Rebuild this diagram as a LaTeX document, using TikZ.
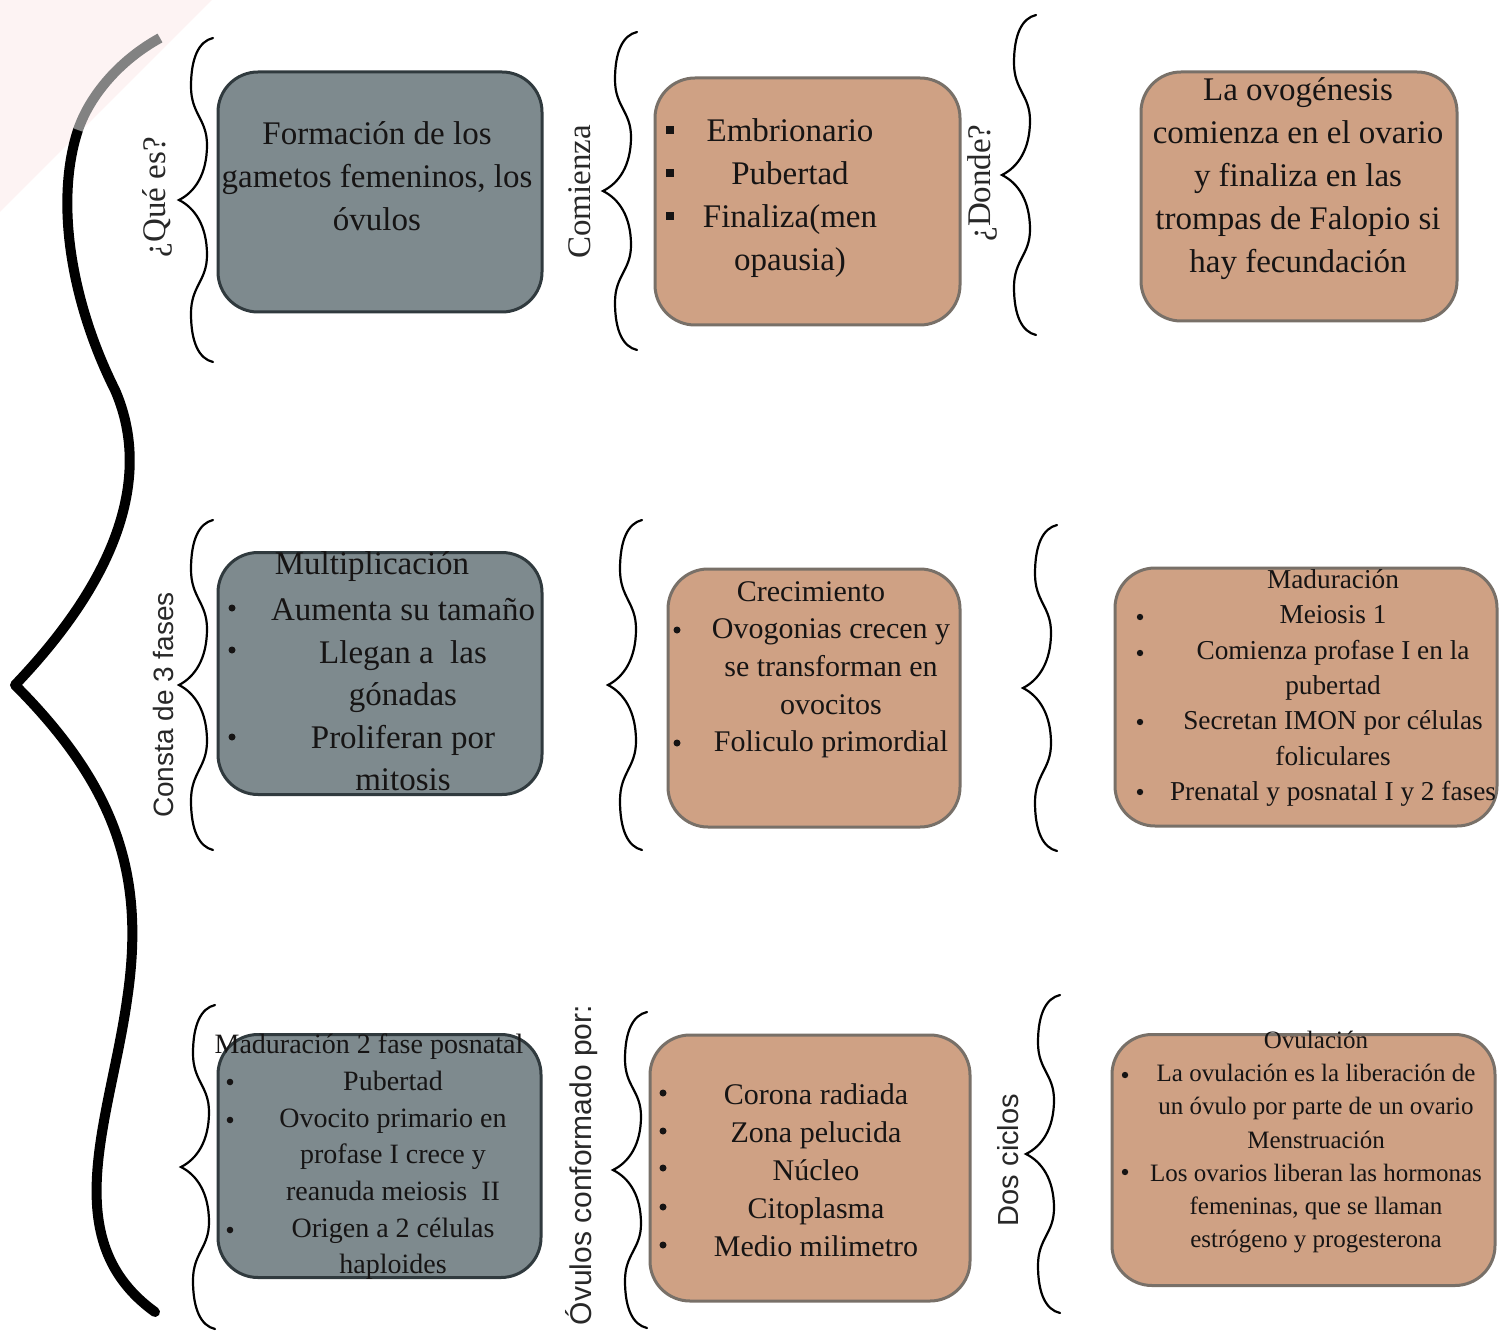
\documentclass[tikz,border=0pt]{standalone}
\usepackage{fontspec}
\setmainfont{Liberation Serif}
\newfontfamily\lblsans{Liberation Sans}
\definecolor{boxgray}{RGB}{126,138,142}
\definecolor{boxgrayline}{RGB}{48,58,62}
\definecolor{boxtan}{RGB}{207,161,132}
\definecolor{tanline}{RGB}{120,112,104}
\definecolor{txtcol}{RGB}{22,20,20}
\definecolor{lblcol}{RGB}{40,40,40}
\definecolor{pinkbg}{RGB}{253,243,243}
\definecolor{tipgray}{RGB}{130,130,130}
\newcommand\fsA{\fontsize{33}{43}\selectfont}
\newcommand\fsD{\fontsize{33}{42.5}\selectfont}
\newcommand\fsE{\fontsize{30}{37.7}\selectfont}
\newcommand\fsF{\fontsize{27.3}{35.3}\selectfont}
\newcommand\fsG{\fontsize{28}{36.6}\selectfont}
\newcommand\fsH{\fontsize{30}{38}\selectfont}
\newcommand\fsI{\fontsize{25}{33.3}\selectfont}
\newcommand\wavybrace[3]{%
  \begin{scope}[shift={(#1,#2)}, yscale=#3]
    \draw[smallbr] (0,0) .. controls (-14,0.02) and (-22,0.12) .. (-22,0.30)
      .. controls (-22,0.47) and (-6,0.50) .. (-6,0.66)
      .. controls (-6,0.84) and (-18,0.95) .. (-34,1)
      .. controls (-18,1.05) and (-6,1.16) .. (-6,1.34)
      .. controls (-6,1.50) and (-22,1.53) .. (-22,1.70)
      .. controls (-22,1.88) and (-14,1.98) .. (0,2);
  \end{scope}}
\tikzset{
  graybox/.style={draw=boxgrayline, line width=3pt, fill=boxgray, rounded corners=40pt, inner sep=0pt},
  tanbox/.style={draw=tanline, line width=3pt, fill=boxtan, rounded corners=40pt, inner sep=0pt},
  txt/.style={text=txtcol, align=center, inner sep=0pt},
  lbl/.style={text=lblcol, rotate=90, inner sep=0pt},
  smallbr/.style={line width=2.2pt, draw=black, line cap=round},
  bigbr/.style={line width=10pt, line cap=round, line join=round},
}
\begin{document}
\begin{tikzpicture}[x=1pt,y=-1pt]
\useasboundingbox (0,0) rectangle (1501,1337);
\fill[white] (0,0) rectangle (1501,1337);
\fill[pinkbg] (0,0) -- (212,0) -- (0,212) -- cycle;

% big brace
\draw[bigbr, black] (78,130) .. controls (55,200) and (70,300) .. (115,390)
  .. controls (150,470) and (125,570) .. (15,685)
  .. controls (120,790) and (145,880) .. (127,1000)
  .. controls (110,1120) and (55,1240) .. (155,1312);
\draw[bigbr, tipgray, line cap=butt] (160,38) .. controls (120,60) and (90,95) .. (78,130);

% small braces
\wavybrace{213}{38}{162}
\wavybrace{637}{32}{159}
\wavybrace{1036}{15}{160}
\wavybrace{213}{520}{165}
\wavybrace{642}{520}{165}
\wavybrace{1057}{525}{163}
\wavybrace{215}{1005}{162}
\wavybrace{647}{1012}{158}
\wavybrace{1060}{995}{159}

% labels
\node[lbl, font=\fsA] (lq) at (157,197) {¿Qué es?};
\node[lbl, font=\fsA] (lc) at (580,192) {Comienza};
\node[lbl, font=\fsA] (ld) at (982,183) {¿Donde?};
\node[lbl, font={\lblsans\fontsize{28}{30}\selectfont}] (lf) at (163,705) {Consta de 3 fases};
\node[lbl, font={\lblsans\fontsize{30}{32}\selectfont}] (lo) at (582,1165) {Óvulos conformado por:};
\node[lbl, font={\lblsans\fontsize{29}{31}\selectfont}] (ldc) at (1008,1160) {Dos ciclos};

% boxes
\node[graybox, minimum width=324pt, minimum height=240pt] (A) at (380,192) {};
\node[tanbox, minimum width=305pt, minimum height=247pt] (B) at (807.5,201.5) {};
\node[tanbox, minimum width=316pt, minimum height=249pt] (C) at (1299,196.5) {};
\node[graybox, minimum width=324pt, minimum height=242pt] (D) at (380,673.5) {};
\node[tanbox, minimum width=292pt, minimum height=258pt] (E) at (814,698) {};
\node[tanbox, minimum width=382pt, minimum height=258pt] (F) at (1306,697) {};
\node[graybox, minimum width=323pt, minimum height=243pt] (G) at (379.5,1156) {};
\node[tanbox, minimum width=320pt, minimum height=266pt] (H) at (810,1168) {};
\node[tanbox, minimum width=383pt, minimum height=251pt] (I) at (1303.5,1160) {};

% texts
\node[txt, font=\fsA] (tA) at (377,176) {Formación de los\\gametos femeninos, los\\óvulos};
\node[txt, font=\fsA] (tB) at (790,198) {Embrionario\\Pubertad\\Finaliza(men\\opausia)};
\node[txt, font=\fsA] (tC) at (1298,179) {La ovogénesis\\comienza en el ovario\\y finaliza en las\\trompas de Falopio si\\hay fecundación};
\node[txt, font=\fsA] (tD0) at (372,567) {Multiplicación};
\node[txt, font=\fsD] (tD) at (403,695) {Aumenta su tamaño\\Llegan a \ las\\gónadas\\Proliferan por\\mitosis};
\node[txt, font=\fsE] (tE0) at (811,592) {Crecimiento};
\node[txt, font=\fsE] (tE) at (831,688.5) {Ovogonias crecen y\\se transforman en\\ovocitos\\Foliculo primordial};
\node[txt, font=\fsF] (tF) at (1333,688) {Maduración\\Meiosis 1\\Comienza profase I en la\\pubertad\\Secretan IMON por células\\foliculares\\Prenatal y posnatal I y 2 fases};
\node[txt, font=\fsG] (tG0) at (369,1047) {Maduración 2 fase posnatal};
\node[txt, font=\fsG] (tG) at (393,1175.5) {Pubertad\\Ovocito primario en\\profase I crece y\\reanuda meiosis \ II\\Origen a 2 células\\haploides};
\node[txt, font=\fsH] (tH) at (816,1170) {Corona radiada\\Zona pelucida\\Núcleo\\Citoplasma\\Medio milimetro};
\node[txt, font=\fsI] (tI) at (1316,1142) {Ovulación\\La ovulación es la liberación de\\un óvulo por parte de un ovario\\Menstruación\\Los ovarios liberan las hormonas\\femeninas, que se llaman\\estrógeno y progesterona};

% bullets
\foreach \yy in {130,173,216} \fill[txtcol] (666,\yy-4) rectangle (674,\yy+4);
\foreach \yy in {608,650,737} \fill[txtcol] (232,\yy) circle (3.5pt);
\foreach \yy in {630,743} \fill[txtcol] (677,\yy) circle (3.5pt);
\foreach \yy in {617,653,722,792} \fill[txtcol] (1140,\yy) circle (3.2pt);
\foreach \yy in {1082,1120,1230} \fill[txtcol] (230,\yy) circle (3.3pt);
\foreach \yy in {1093,1131,1168,1207,1245} \fill[txtcol] (663,\yy) circle (3.5pt);
\foreach \yy in {1075,1172} \fill[txtcol] (1125,\yy) circle (3.2pt);
\end{tikzpicture}
\end{document}
